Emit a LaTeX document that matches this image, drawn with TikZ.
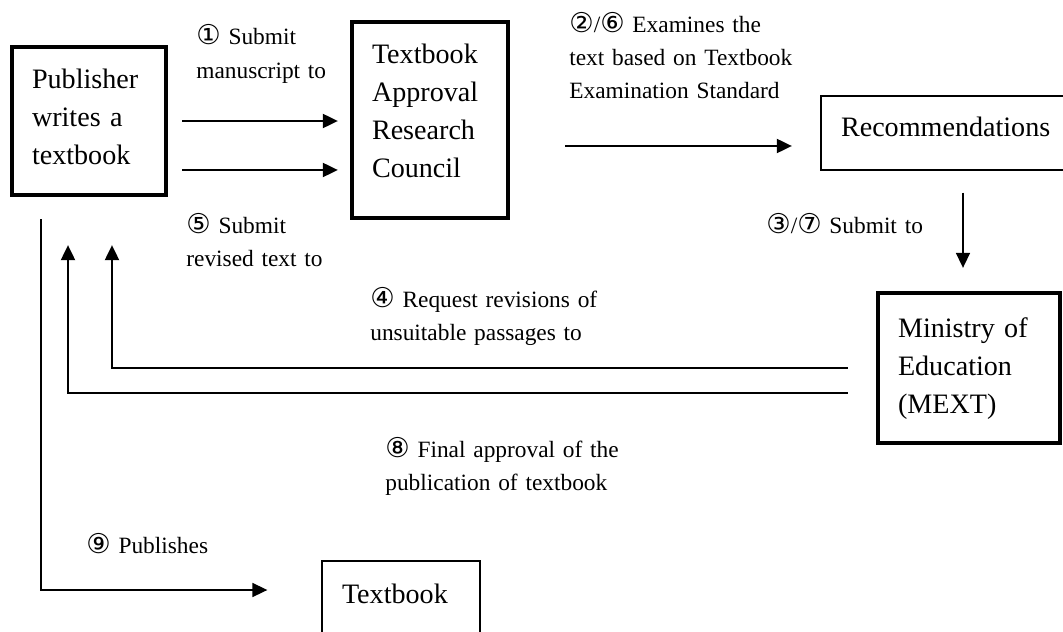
\documentclass[tikz,border=0pt]{standalone}
\usepackage{fontspec}
\setmainfont{Liberation Serif}
\newfontfamily\circfont{DejaVu Sans}
\usetikzlibrary{arrows.meta}
\newcommand{\cn}[1]{{\circfont\fontsize{15.5}{18.8}\selectfont #1}}
\newcommand{\boxfont}{\fontsize{16}{21.8}\selectfont}
\newcommand{\stepfont}{\fontsize{13.3}{18.8}\selectfont}
\tikzset{
  heavybox/.style={draw, line width=2.5pt, inner xsep=0.4cm, inner ysep=0pt, align=left, font=\boxfont, text height=0.82cm},
  lightbox/.style={draw, line width=0.8pt, inner xsep=0.4cm, inner ysep=0pt, align=left, font=\boxfont, text height=0.82cm},
  flow/.style={line width=1pt, -{Triangle[length=8.5pt,width=8pt]}},
  steptext/.style={font=\stepfont, align=left, text width=6cm, inner sep=0pt, anchor=base west}
}
\begin{document}
\begin{tikzpicture}[x=0.02cm, y=-0.02cm]
        \useasboundingbox (0,0) rectangle (1063,632);
        % boxes
        \node[heavybox, text width=2.28cm, text depth=2.14cm] (pub) at (89,121) {Publisher\\writes a\\textbook};
        \node[heavybox, text width=2.32cm, text depth=3.1cm] (tarc) at (430,120) {Textbook\\Approval\\Research\\Council};
        \node[lightbox, text width=4.38cm, text depth=0.66cm] (rec) at (950.5,133) {Recommendations};
        \node[heavybox, text width=2.84cm, text height=0.88cm, text depth=2.12cm] (mext) at (969,368) {Ministry of\\Education\\(MEXT)};
        \node[lightbox, text width=2.36cm, text height=0.84cm, text depth=0.84cm] (book) at (401,603) {Textbook};
        % steps
        \draw[flow, shorten <=0.28cm, shorten >=0.24cm] (pub.east) -- (pub.east -| tarc.west);
        \draw[flow, shorten <=0.28cm, shorten >=0.24cm] ([yshift=-0.98cm]pub.east) -- ([yshift=-0.98cm]pub.east -| tarc.west);
        \draw[flow, shorten <=1.1cm, shorten >=0.57cm] ([yshift=-0.52cm]tarc.east) -- ([yshift=-0.52cm]tarc.east -| rec.west);
        \draw[flow, line width=0.75pt, shorten <=0.44cm, shorten >=0.46cm] ([xshift=-0.12cm]mext.north |- rec.south) -- ([xshift=-0.12cm]mext.north);
        \draw[flow, shorten <=0.56cm, shorten >=0.96cm] (mext.west) -| ([xshift=0.46cm]pub.south);
        \draw[flow, shorten <=0.56cm, shorten >=0.96cm] ([yshift=-0.5cm]mext.west) -| ([xshift=-0.42cm]pub.south);
        \draw[flow, line width=0.8pt, shorten <=0.44cm, shorten >=1.08cm] ([xshift=-0.96cm]pub.south) |- ([yshift=0.26cm]book.west);
        % labels
        \node[steptext] (s1) at (196,45) {\cn{①} Submit\\manuscript to};
        \node[steptext] (s5) at (186,233) {\cn{⑤} Submit\\revised text to};
        \node[steptext] (s26) at (569,32) {\cn{②}/\cn{⑥} Examines the\\text based on Textbook\\Examination Standard};
        \node[steptext] (s37) at (766,233) {\cn{③}/\cn{⑦} Submit to};
        \node[steptext] (s4) at (370,307) {\cn{④} Request revisions of\\unsuitable passages to};
        \node[steptext] (s8) at (385,457) {\cn{⑧} Final approval of the\\publication of textbook};
        \node[steptext] (s9) at (86,553) {\cn{⑨} Publishes};
\end{tikzpicture}
\end{document}
